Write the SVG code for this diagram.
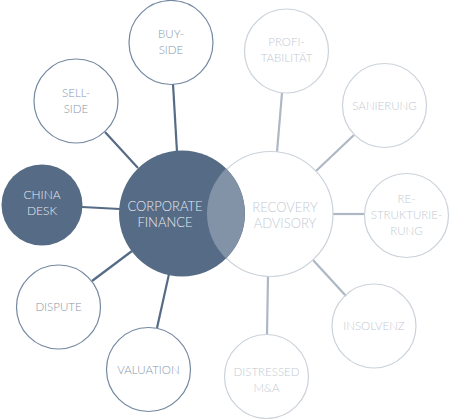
<svg xmlns="http://www.w3.org/2000/svg" width="450" height="419" viewBox="0 0 450 419">
<style>
text{font-family:Lato,"Open Sans","Liberation Sans",sans-serif;font-weight:300;text-anchor:middle;font-size:11.5px}
.cf{fill:none;stroke:#7488a0;stroke-width:1.2}
.cft{fill:#8797ab}
.ra{fill:none;stroke:#cbd2da;stroke-width:1.2}
.rat{fill:#c3cad4}
.lc{stroke:#566b85;stroke-width:2.2}
.lr{stroke:#aeb8c4;stroke-width:2.2}
.big{font-size:13px;fill:#e6eaf0}
</style>
<rect width="450" height="419" fill="#ffffff"/>
<g id="connectors">
<line class="lc" x1="173" y1="84" x2="177" y2="152"/>
<line class="lc" x1="105" y1="132" x2="138" y2="168"/>
<line class="lc" x1="82" y1="207" x2="120" y2="209"/>
<line class="lc" x1="92" y1="281" x2="132" y2="251"/>
<line class="lc" x1="157" y1="328" x2="169" y2="274"/>
<line class="lr" x1="282" y1="93" x2="277" y2="152"/>
<line class="lr" x1="354" y1="135" x2="316" y2="171"/>
<line class="lr" x1="332" y1="214" x2="364" y2="214"/>
<line class="lr" x1="313" y1="260" x2="346" y2="296"/>
<line class="lr" x1="268" y1="276" x2="267" y2="334"/>
</g>
<g id="recovery-advisory">
<circle cx="270.5" cy="214" r="62.5" fill="#ffffff" stroke="#cbd2da" stroke-width="1.2"/>
<text class="rat" x="285" y="212" style="font-size:13px">RECOVERY</text>
<text class="rat" x="285" y="228" style="font-size:13px">ADVISORY</text>
</g>
<g id="corporate-finance">
<circle cx="182" cy="213.5" r="63" fill="#566b85"/>
<path d="M226,168.6 A62.5,62.5 0 0 0 226,258.4 A63,63 0 0 0 226,168.6 Z" fill="#8393a7"/>
<text class="big" x="165" y="211">CORPORATE</text>
<text class="big" x="165" y="227">FINANCE</text>
</g>
<g id="china-desk">
<circle cx="42" cy="205" r="40.5" fill="#566b85"/>
<text x="42" y="199" fill="#e6eaf0" style="font-size:12px">CHINA</text>
<text x="42" y="215" fill="#e6eaf0" style="font-size:12px">DESK</text>
</g>
<g id="buy-side">
<circle class="cf" cx="171" cy="42.5" r="42"/>
<text class="cft" x="171" y="38">BUY-</text>
<text class="cft" x="171" y="54">SIDE</text>
</g>
<g id="sell-side">
<circle class="cf" cx="76" cy="101" r="42"/>
<text class="cft" x="76" y="97">SELL-</text>
<text class="cft" x="76" y="113">SIDE</text>
</g>
<g id="dispute">
<circle class="cf" cx="58.5" cy="307" r="42"/>
<text class="cft" x="58.5" y="311">DISPUTE</text>
</g>
<g id="valuation">
<circle class="cf" cx="148.5" cy="369.5" r="42"/>
<text class="cft" x="148.5" y="373.5">VALUATION</text>
</g>
<g id="profitabilitaet">
<circle class="ra" cx="286.5" cy="51" r="42"/>
<text class="rat" x="286.5" y="46">PROFI-</text>
<text class="rat" x="286.5" y="62">TABILITÄT</text>
</g>
<g id="sanierung">
<circle class="ra" cx="384.5" cy="105.5" r="42"/>
<text class="rat" x="384.5" y="110">SANIERUNG</text>
</g>
<g id="restrukturierung">
<circle class="ra" cx="406.5" cy="215.5" r="42"/>
<text class="rat" x="406.5" y="203">RE-</text>
<text class="rat" x="406.5" y="219">STRUKTURIE-</text>
<text class="rat" x="406.5" y="235">RUNG</text>
</g>
<g id="insolvenz">
<circle class="ra" cx="374" cy="326" r="42"/>
<text class="rat" x="374" y="330">INSOLVENZ</text>
</g>
<g id="distressed-ma">
<circle class="ra" cx="266.5" cy="376.5" r="42"/>
<text class="rat" x="266.5" y="376">DISTRESSED</text>
<text class="rat" x="266.5" y="392">M&amp;A</text>
</g>
</svg>
